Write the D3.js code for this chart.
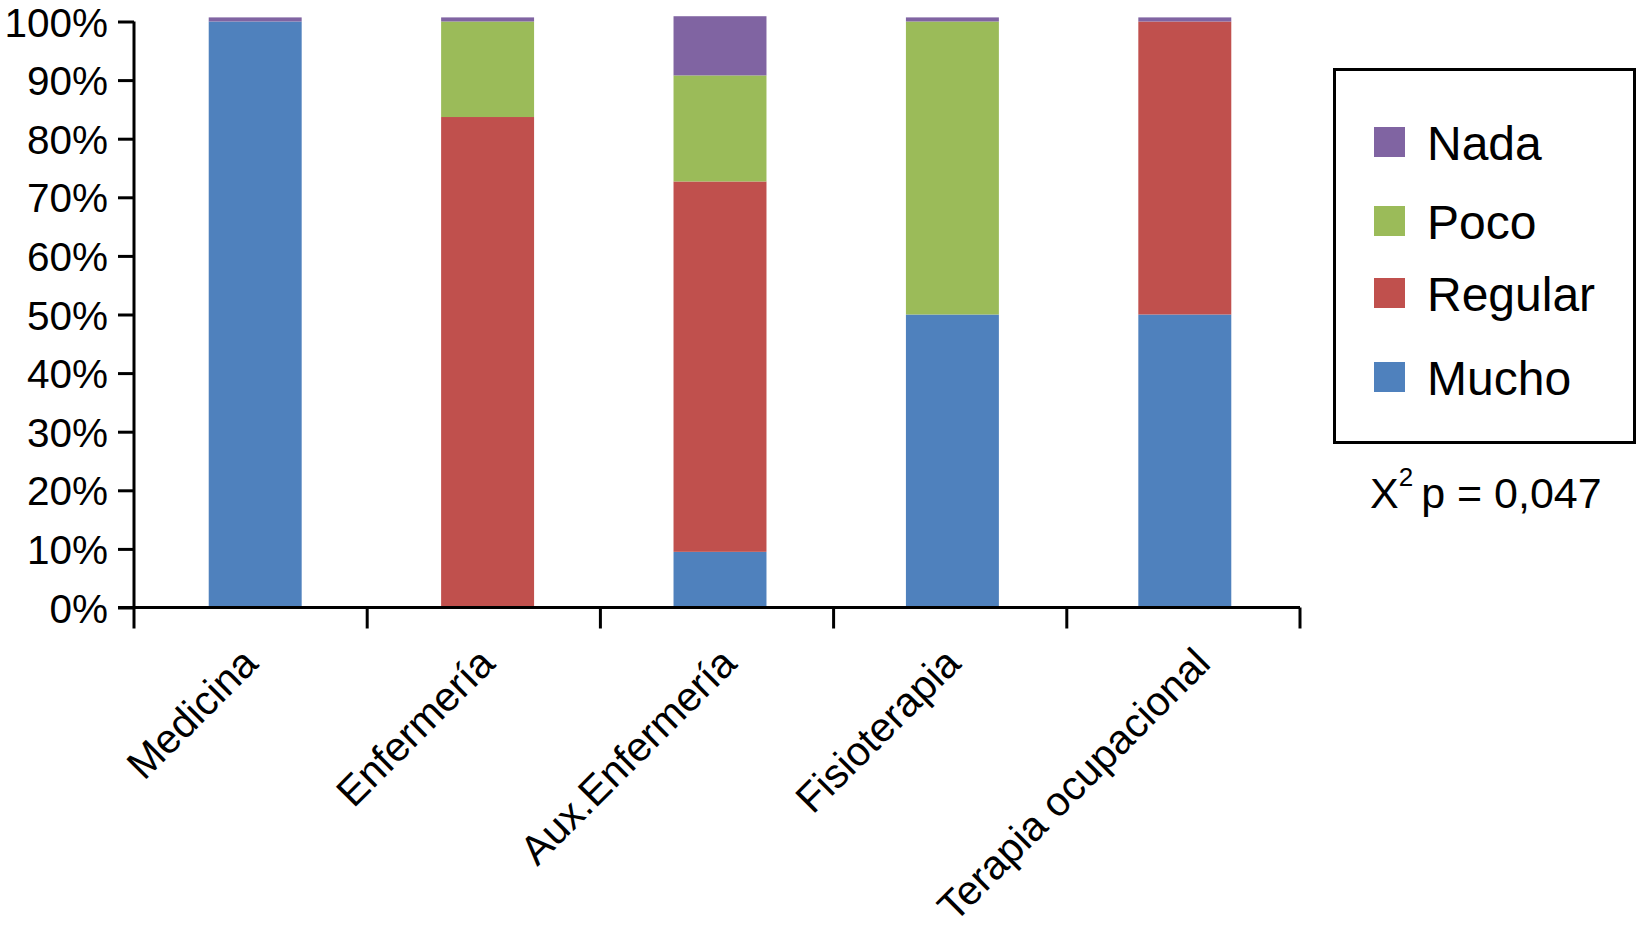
<!DOCTYPE html>
<html>
<head>
<meta charset="utf-8">
<script src="https://cdn.jsdelivr.net/npm/d3@7"></script>
<style>
  html, body { margin: 0; padding: 0; background: #fff; }
  svg { display: block; font-family: "Liberation Sans", Arial, Helvetica, sans-serif; }
</style>
</head>
<body>
<svg id="chart" width="1637" height="931"></svg>
<script>
const categories = ["Medicina", "Enfermería", "Aux.Enfermería", "Fisioterapia", "Terapia ocupacional"];
const seriesNames = ["Mucho", "Regular", "Poco", "Nada"];
const mucho   = [100, 0,    9.5,  50, 50];
const regular = [0,   83.7, 63.2, 0,  50];
const poco    = [0,   16.3, 18.1, 50, 0];
const nada    = [0.7, 0.7,  10.1, 0.7, 0.7];
const colors  = ["#4F81BD", "#C0504D", "#9BBB59", "#8064A2"];
const yTicks  = [0, 10, 20, 30, 40, 50, 60, 70, 80, 90, 100];
const legendOrder = ["Nada", "Poco", "Regular", "Mucho"];
const noteText = "p = 0,047";

const values = [mucho, regular, poco, nada];
const rows = categories.map((c, i) => {
  const r = { cat: c };
  seriesNames.forEach((s, k) => r[s] = values[k][i]);
  return r;
});

const svg = d3.select("#chart");
// bars
const x = d3.scaleBand().domain(categories).range([139, 1301]).paddingInner(0.6).paddingOuter(0.3);
// axis ticks (category boundaries)
const xb = d3.scaleLinear().domain([0, categories.length]).range([134, 1300]);
const y = d3.scaleLinear().domain([0, 100]).range([607.5, 21.5]);
const color = d3.scaleOrdinal().domain(seriesNames).range(colors);

const stacked = d3.stack().keys(seriesNames)(rows);

svg.append("g").selectAll("g").data(stacked).join("g")
  .attr("fill", d => color(d.key))
  .selectAll("rect").data(d => d).join("rect")
  .attr("x", d => x(d.data.cat))
  .attr("width", x.bandwidth())
  .attr("y", d => y(d[1]))
  .attr("height", d => y(d[0]) - y(d[1]));

// Y axis
const yAxis = svg.append("g").attr("transform", "translate(134,0)")
  .call(d3.axisLeft(y).tickValues(yTicks).tickFormat(d => d + "%").tickSize(16).tickPadding(10));
yAxis.select(".domain").attr("stroke", "#000").attr("stroke-width", 3).attr("d", `M0,${y(100)}V${y(0)}`);
yAxis.selectAll(".tick line").attr("stroke", "#000").attr("stroke-width", 3);
yAxis.selectAll(".tick text").attr("font-size", 40.5).attr("fill", "#000")
  .attr("font-family", "Liberation Sans, Arial, sans-serif").attr("dy", "0.36em");

// X axis
const xg = svg.append("g");
xg.append("line").attr("x1", 118).attr("x2", 1300).attr("y1", y(0)).attr("y2", y(0))
  .attr("stroke", "#000").attr("stroke-width", 3);
xg.selectAll("line.t").data(d3.range(categories.length + 1)).join("line").attr("class", "t")
  .attr("x1", d => xb(d)).attr("x2", d => xb(d))
  .attr("y1", y(0)).attr("y2", y(0) + 21)
  .attr("stroke", "#000").attr("stroke-width", 3);
const labels = xg.selectAll("text").data(categories).join("text")
  .attr("text-anchor", "end")
  .attr("font-size", 41)
  .attr("fill", "#000")
  .text(d => d);
labels.each(function(d) {
  const tl = this.getComputedTextLength();
  const cx = x(d) + x.bandwidth() / 2;
  d3.select(this).attr("transform", `translate(${cx + 0.1145 * tl - 14},${y(0) + 58}) rotate(-45)`);
});

// Legend
const lg = svg.append("g");
lg.append("rect").attr("x", 1334.5).attr("y", 69.5).attr("width", 300).attr("height", 373)
  .attr("fill", "none").attr("stroke", "#000").attr("stroke-width", 3);
const legendY = { Nada: 127, Poco: 206, Regular: 278, Mucho: 362 };
const items = lg.selectAll("g.item").data(legendOrder).join("g").attr("class", "item");
items.append("rect").attr("x", 1374).attr("y", d => legendY[d]).attr("width", 31).attr("height", 30)
  .attr("fill", d => color(d));
items.append("text").attr("x", 1427).attr("y", d => legendY[d] + 33)
  .attr("font-size", 48).attr("fill", "#000").text(d => d);

// Note
const note = svg.append("text").attr("x", 1370).attr("y", 508).attr("font-size", 43).attr("fill", "#000");
note.append("tspan").text("X");
note.append("tspan").attr("font-size", 26).attr("dy", -22).text("2");
note.append("tspan").attr("dy", 22).attr("dx", 8).text(noteText);
</script>
</body>
</html>
